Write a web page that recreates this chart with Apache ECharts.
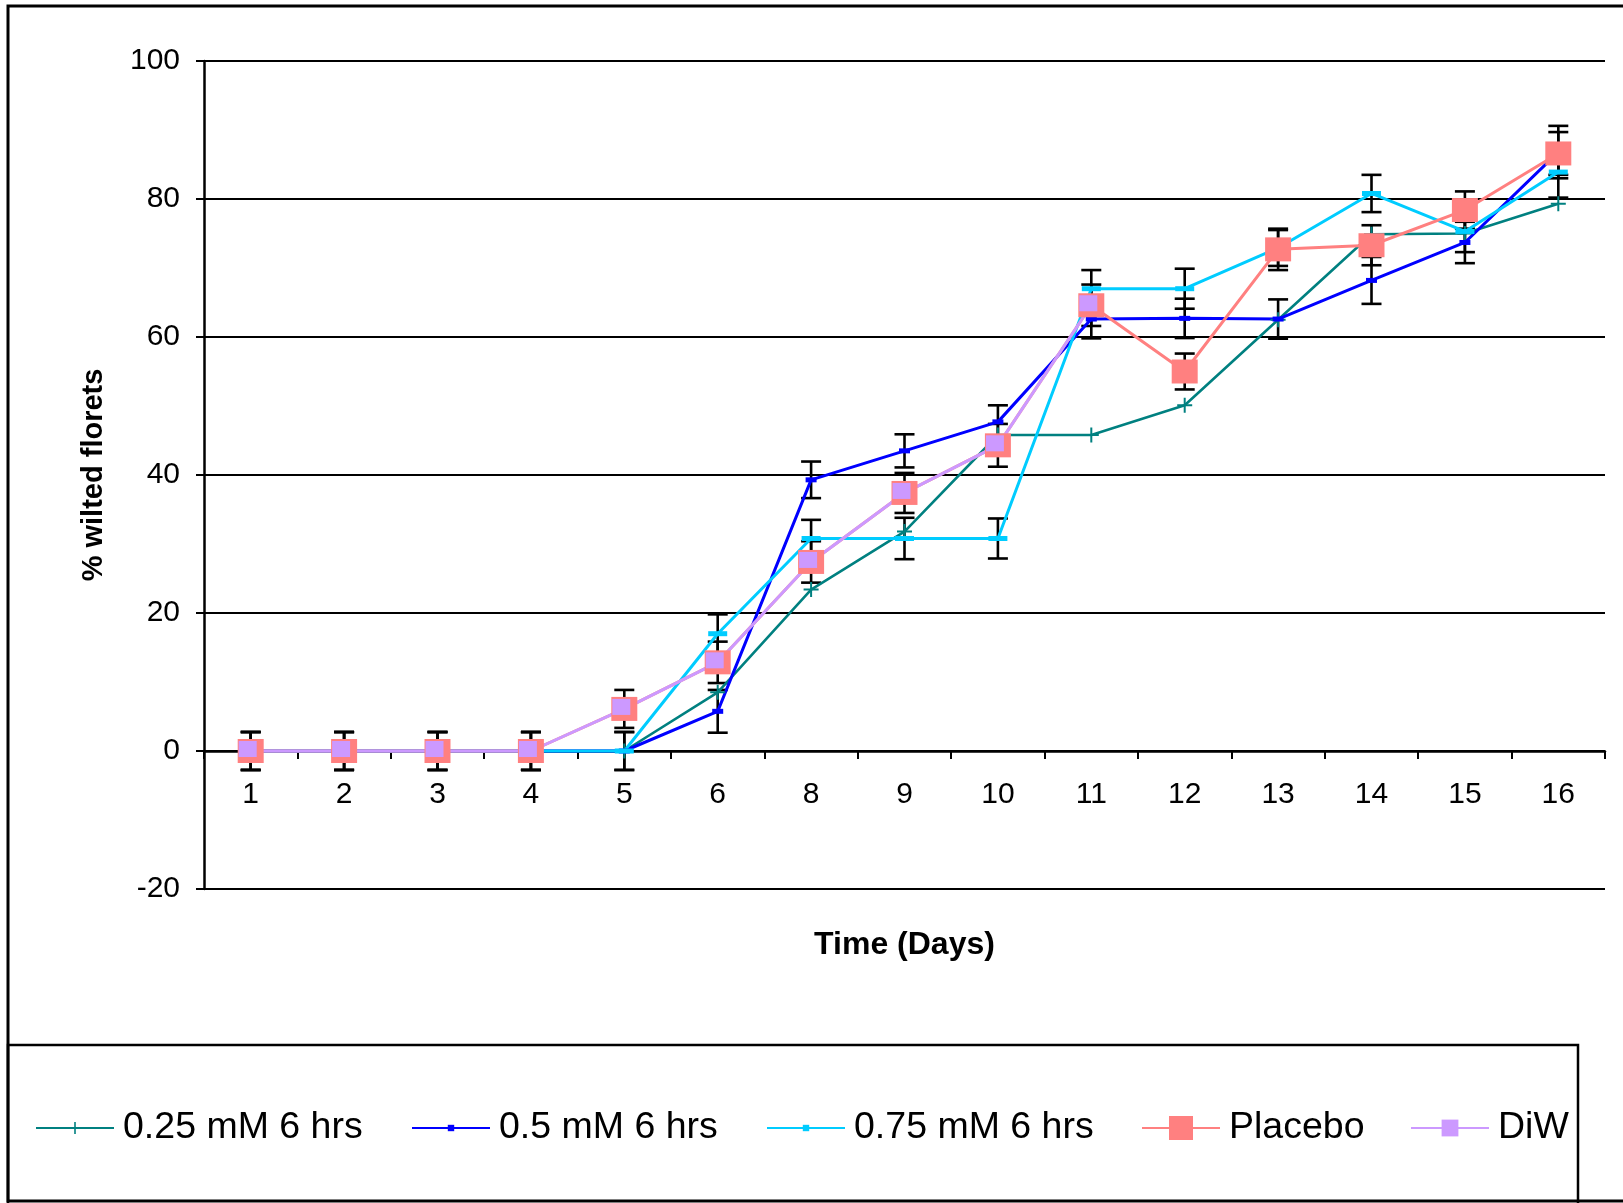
<!DOCTYPE html>
<html>
<head>
<meta charset="utf-8">
<script src="https://cdn.jsdelivr.net/npm/echarts@6/dist/echarts.min.js"></script>
<style>
  html, body { margin: 0; padding: 0; background: #fff; }
  #chart { width: 1623px; height: 1203px; }
</style>
</head>
<body>
<div id="chart"></div>
<script>
// Sampling days (no reading on day 7)
const days = ['1', '2', '3', '4', '5', '6', '8', '9', '10', '11', '12', '13', '14', '15', '16'];

// % wilted florets per treatment
const conc025 = [0, 0, 0, 0, 0, 8.5, 23.4, 31.8, 45.8, 45.8, 50.1, 62.5, 74.9, 75.0, 79.3];
const conc05 = [0, 0, 0, 0, 0, 5.75, 39.3, 43.5, 47.7, 62.6, 62.7, 62.6, 68.2, 73.7, 86.8];
const conc075 = [0, 0, 0, 0, 0, 17.0, 30.8, 30.8, 30.8, 67.0, 67.0, 72.9, 80.8, 75.3, 83.9];
const placebo = [0, 0, 0, 0, 6.1, 12.85, 27.4, 37.4, 44.3, 64.6, 55.0, 72.7, 73.3, 78.4, 86.6];
const diw = [0, 0, 0, 0, 6.1, 12.85, 27.4, 37.4, 44.3, 64.6, null, null, null, null, null];

// Standard errors (±)
const conc05Err = [2.75, 2.75, 2.75, 2.75, 2.75, 3.1, 2.65, 2.4, 2.4, 2.8, 2.85, 2.85, 3.4, 3.0, 3.8];
const conc075Err = [2.75, 2.75, 2.75, 2.75, 2.75, 2.8, 2.7, 3.0, 2.9, 2.7, 2.9, 2.6, 2.7, 3.0, 3.7];
const placeboErr = [2.75, 2.75, 2.75, 2.75, 2.75, 3.0, 3.0, 2.9, 3.1, 3.0, 2.6, 3.0, 2.9, 2.7, 3.1];

const seriesNames = ['0.25 mM 6 hrs', '0.5 mM 6 hrs', '0.75 mM 6 hrs', 'Placebo', 'DiW'];
const seriesColors = ['#008080', '#0000FF', '#00CCFF', '#FF8080', '#CC99FF'];

const FONT = '"Liberation Sans", Arial, sans-serif';
const crossPath = 'path://M6.5,0H8.5V6.5H15V8.5H8.5V15H6.5V8.5H0V6.5H6.5Z';

// Plot box and value range; the category axis sits on the zero line
const GRID = { left: 204, right: 18, top: 61, bottom: 314 };
const Y_MIN = -20, Y_MAX = 100;
const plotHeight = 1203 - GRID.top - GRID.bottom;
const zeroOffset = -plotHeight * (0 - Y_MIN) / (Y_MAX - Y_MIN);

// Black error bars with caps, drawn through the value axis
function errorBars(values, errors) {
  const data = [];
  values.forEach((v, i) => { if (v != null) data.push([i, v, errors[i]]); });
  return {
    type: 'custom',
    silent: true,
    animation: false,
    data: data,
    encode: { x: 0, y: 1 },
    renderItem: function (params, api) {
      const i = api.value(0), v = api.value(1), e = api.value(2);
      const hi = api.coord([i, v + e]);
      const lo = api.coord([i, v - e]);
      const half = 10;
      const style = { stroke: '#000', lineWidth: 2.6, fill: null };
      return {
        type: 'group',
        children: [
          { type: 'line', shape: { x1: hi[0], y1: hi[1], x2: lo[0], y2: lo[1] }, style: style },
          { type: 'line', shape: { x1: hi[0] - half, y1: hi[1], x2: hi[0] + half, y2: hi[1] }, style: style },
          { type: 'line', shape: { x1: lo[0] - half, y1: lo[1], x2: lo[0] + half, y2: lo[1] }, style: style }
        ]
      };
    }
  };
}

function lineSeries(name, data, color, symbol, size, width, extra) {
  return Object.assign({
    name: name,
    type: 'line',
    data: data,
    symbol: symbol,
    symbolSize: size,
    showSymbol: true,
    showAllSymbol: true,
    connectNulls: false,
    lineStyle: { color: color, width: width },
    itemStyle: { color: color, opacity: 1 },
    emphasis: { disabled: true },
    animation: false
  }, extra || {});
}

// One legend block per treatment so each keeps its own marker size
const legendLefts = [35, 411, 766, 1141, 1410];
const legendIconHeights = [15, 8, 8, 30, 21];
const legends = seriesNames.map((name, k) => ({
  data: [name],
  left: legendLefts[k],
  top: 1109,
  padding: 0,
  itemWidth: 78,
  itemHeight: legendIconHeights[k],
  selectedMode: false,
  textStyle: { fontSize: 37.5, color: '#000', fontFamily: FONT, padding: [0, 0, 0, 4] }
}));

const chart = echarts.init(document.getElementById('chart'), null, { renderer: 'canvas' });
chart.setOption({
  backgroundColor: '#fff',
  animation: false,
  textStyle: { fontFamily: FONT },
  grid: Object.assign({ containLabel: false }, GRID),
  legend: legends,
  graphic: [
    { type: 'rect', silent: true, z: 0, shape: { x: 8, y: 6, width: 1700, height: 1195 },
      style: { fill: null, stroke: '#000', lineWidth: 3 } },
    { type: 'rect', silent: true, z: 0, shape: { x: 8, y: 1045, width: 1570, height: 160 },
      style: { fill: null, stroke: '#000', lineWidth: 2.5 } }
  ],
  xAxis: {
    type: 'category',
    data: days,
    boundaryGap: true,
    position: 'bottom',
    offset: zeroOffset,
    name: 'Time (Days)',
    nameLocation: 'middle',
    nameGap: 178,
    nameTextStyle: { fontSize: 32, fontWeight: 'bold', color: '#000', fontFamily: FONT },
    axisLine: { onZero: false, lineStyle: { color: '#000', width: 2.5 } },
    axisTick: { show: true, alignWithLabel: false, length: 8, lineStyle: { color: '#000', width: 2 } },
    axisLabel: { fontSize: 30, color: '#000', margin: 29, fontFamily: FONT, interval: 0 },
    splitLine: { show: false }
  },
  yAxis: {
    type: 'value',
    min: Y_MIN,
    max: Y_MAX,
    interval: 20,
    name: '% wilted florets',
    nameLocation: 'middle',
    nameGap: 96,
    nameRotate: 90,
    nameTextStyle: { fontSize: 29, fontWeight: 'bold', color: '#000', fontFamily: FONT },
    axisLine: { show: true, onZero: false, lineStyle: { color: '#000', width: 2.5 } },
    axisTick: { show: true, length: 8, lineStyle: { color: '#000', width: 2 } },
    axisLabel: { fontSize: 30, color: '#000', margin: 24, fontFamily: FONT },
    splitLine: { show: true, lineStyle: { color: '#000', width: 2 } }
  },
  series: [
    lineSeries(seriesNames[0], conc025, seriesColors[0], crossPath, 15, 2.6),
    errorBars(conc05, conc05Err),
    lineSeries(seriesNames[1], conc05, seriesColors[1], 'rect', [11, 5], 3),
    errorBars(conc075, conc075Err),
    lineSeries(seriesNames[2], conc075, seriesColors[2], 'rect', [19, 5], 3),
    errorBars(placebo, placeboErr),
    lineSeries(seriesNames[3], placebo, seriesColors[3], 'rect', [26, 24], 3),
    lineSeries(seriesNames[4], diw, seriesColors[4], 'rect', [18, 16], 3, { symbolOffset: [-3, -2] })
  ]
});
</script>
</body>
</html>
